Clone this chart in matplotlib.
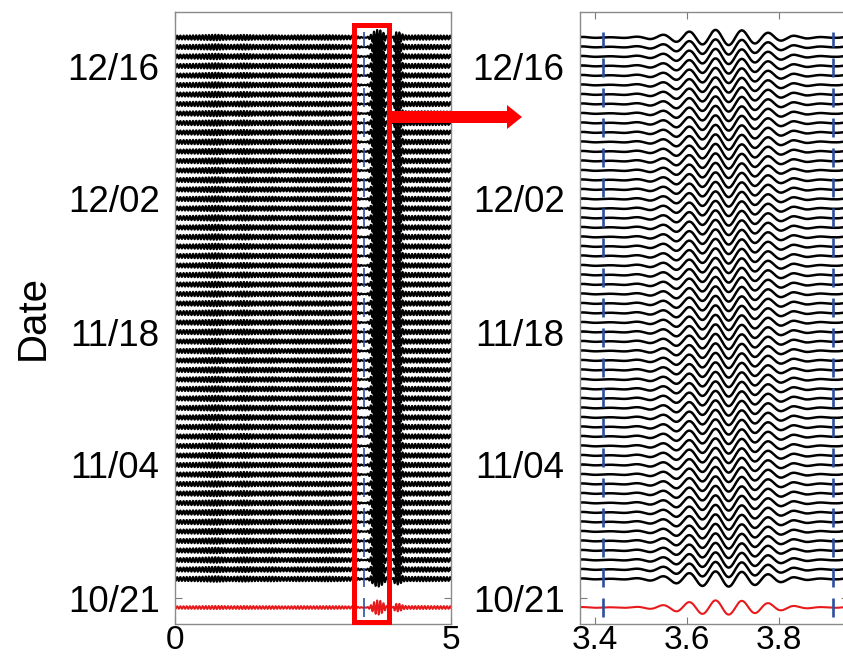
import numpy as np
import matplotlib
matplotlib.use('Agg')
import matplotlib.pyplot as plt
import matplotlib.patches as mpatches

plt.rcParams['font.family'] = ['Liberation Sans', 'DejaVu Sans']

# ---------------- data ----------------
# trace dates as days after 10/21
trace_days = list(range(2, 60))
ref_day = -1                      # red reference (stack) trace
tick_days = [0, 14, 28, 42, 56]
tick_labels = ['10/21', '11/04', '11/18', '12/02', '12/16']

# amplitude envelope (units: trace spacing)
env_t = [0.0, 0.25, 0.5, 0.75, 1.0, 1.25, 1.5, 1.75, 2.0, 2.25, 2.5, 2.75,
         3.0, 3.25, 3.35, 3.42, 3.46, 3.50, 3.53, 3.56, 3.60, 3.63, 3.66,
         3.69, 3.72, 3.75, 3.78, 3.81, 3.84, 3.88, 3.92, 3.95, 3.98, 4.02,
         4.06, 4.10, 4.15, 4.25, 4.5, 4.75, 5.0]
env_black = [0.20, 0.22, 0.25, 0.30, 0.22, 0.28, 0.22, 0.25, 0.20, 0.24,
             0.22, 0.25, 0.22, 0.18, 0.08, 0.02, 0.04, 0.10, 0.20, 0.35,
             0.60, 0.72, 0.80, 0.80, 0.75, 0.62, 0.48, 0.30, 0.15, 0.06,
             0.03, 0.08, 0.45, 0.60, 0.55, 0.40, 0.25, 0.22, 0.24, 0.22,
             0.20]
env_red = [0.13, 0.14, 0.15, 0.17, 0.14, 0.16, 0.14, 0.15, 0.13, 0.15,
           0.14, 0.15, 0.14, 0.11, 0.06, 0.02, 0.03, 0.08, 0.17, 0.30,
           0.55, 0.66, 0.75, 0.75, 0.70, 0.58, 0.44, 0.27, 0.13, 0.05,
           0.03, 0.06, 0.32, 0.42, 0.40, 0.30, 0.17, 0.15, 0.16, 0.15,
           0.14]
period = 0.0575        # s, dominant period
peak_time = 3.662      # s, time of main peak
window = [3.417, 3.917]        # blue dashed window
box_x = [3.24, 3.88]           # red zoom box (left panel)

# ---------------- waveform ----------------
t = np.arange(0.0, 5.0005, 0.001)
carrier = np.cos(2 * np.pi * (t - peak_time) / period)
w_black = np.interp(t, env_t, env_black) * carrier
w_red = np.interp(t, env_t, env_red) * carrier

# ---------------- figure ----------------
W, H = 843, 661
fig = plt.figure(figsize=(W / 100, H / 100), dpi=100)

ax_bottom, ax_top = 624, 12
day0_px, px_per_day = 598, 9.5
ylim = (-(ax_bottom - day0_px) / px_per_day, (day0_px - ax_top) / px_per_day)

axL = fig.add_axes([175 / W, (H - ax_bottom) / H, 276 / W, (ax_bottom - ax_top) / H])
xr0, xr1 = 3.3674, 3.95
axR = fig.add_axes([580 / W, (H - ax_bottom) / H, (xr1 - xr0) * 460 / W,
                    (ax_bottom - ax_top) / H])

blue = '#2d4f9e'
for ax, lw_b, lw_r, lw_v in [(axL, 1.5, 1.4, 1.2), (axR, 1.8, 1.5, 1.9)]:
    for d in trace_days:
        ax.plot(t, d + w_black, color='black', lw=lw_b, zorder=2)
    ax.plot(t, ref_day + w_red, color='#e8191b', lw=lw_r, zorder=2)
    for xv in window:
        ax.vlines(xv, -2.0, 59.6, colors=blue, lw=lw_v, zorder=3,
                  linestyles=[(0, (19 * 0.72 / lw_v, 11 * 0.72 / lw_v))])
    ax.set_ylim(*ylim)
    ax.set_yticks(tick_days)
    ax.set_yticklabels(tick_labels)
    ax.tick_params(direction='in', length=5, width=0.8, color='#7a7a7a',
                   top=True, right=True)
    ax.tick_params(axis='y', pad=11, labelsize=26.5)
    ax.tick_params(axis='x', pad=1, labelsize=24)
    for s in ax.spines.values():
        s.set_color('#8a8a8a')
        s.set_linewidth(1.0)

axL.set_xlim(0, 5)
axL.set_xticks([0, 5])
axL.set_xticklabels(['0', '5'])
axR.set_xlim(xr0, xr1)
axR.set_xticks([3.4, 3.6, 3.8])
axR.set_xticklabels(['3.4', '3.6', '3.8'])

axL.set_ylabel('Date', fontsize=29)
axL.yaxis.set_label_coords((52 - 175) / 276, 0.5)

# red zoom box
axL.add_patch(mpatches.Rectangle((box_x[0], ylim[0] + 0.25),
                                 box_x[1] - box_x[0], 60.3 - ylim[0] - 0.25,
                                 fill=False, ec='#ff0000', lw=3.6, zorder=5,
                                 clip_on=False))

# red arrow to the zoomed panel
fig.patches.append(mpatches.FancyArrow(389 / W, (H - 117) / H, 133 / W, 0,
                                       width=12 / H, head_width=24 / H,
                                       head_length=15 / W,
                                       length_includes_head=True,
                                       color='#ff0000', lw=0,
                                       transform=fig.transFigure, figure=fig))

fig.savefig('out.png', dpi=100)
